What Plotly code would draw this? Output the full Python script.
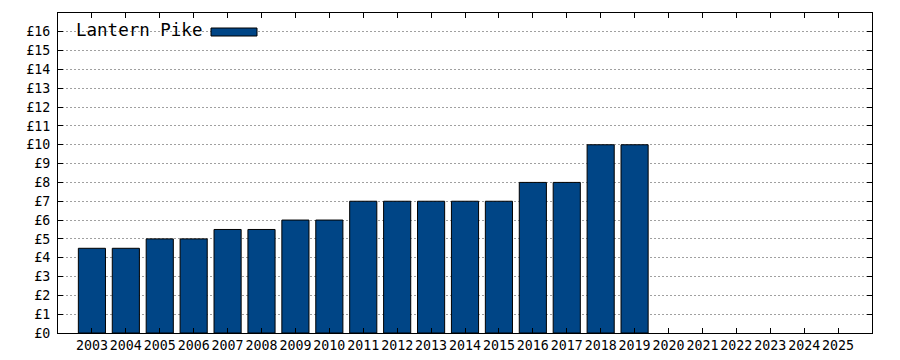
import plotly.graph_objects as go

years = list(range(2003, 2026))
prices = [4.5, 4.5, 5, 5, 5.5, 5.5, 6, 6, 7, 7, 7, 7, 7, 8, 8, 10, 10,
          None, None, None, None, None, None]
series_name = "Lantern Pike"
y_ticks = list(range(0, 17))
y_labels = [f"£{v}" for v in y_ticks]

FONT = "DejaVu Sans Mono"
BAR = "#004586"

fig = go.Figure()
fig.add_trace(go.Bar(
    x=years, y=prices, width=0.8, name=series_name,
    marker=dict(color=BAR, line=dict(color="black", width=1)),
    showlegend=False,
))

pw, ph = 900 - 58 - 28, 360 - 13 - 27
def px(x): return (x - 58) / pw
def py(y): return (333 - y) / ph

fig.update_layout(
    width=900, height=360,
    margin=dict(l=58, r=28, t=13, b=27, autoexpand=False),
    paper_bgcolor="white", plot_bgcolor="white",
    font=dict(family=FONT, size=13.3, color="black"),
    xaxis=dict(
        range=[2002, 2026], tickvals=years, ticktext=[str(y) for y in years],
        ticks="inside", ticklen=5, tickcolor="black", showline=True,
        linecolor="black", linewidth=1, mirror="ticks", showgrid=False,
        zeroline=False, automargin=False, tickangle=0,
    ),
    yaxis=dict(
        range=[0, 17], tickvals=y_ticks, ticktext=y_labels,
        ticks="inside", ticklen=5, tickcolor="black", showline=True,
        linecolor="black", linewidth=1, mirror="ticks",
        showgrid=True, gridcolor="#a0a0a0", griddash="2px,2px", gridwidth=1,
        zeroline=False, ticklabelstandoff=4, automargin=False,
    ),
    annotations=[dict(
        x=px(74), y=py(30), xref="paper", yref="paper", text=series_name,
        showarrow=False, xanchor="left", yanchor="middle",
        font=dict(family=FONT, size=17.5, color="black"),
    )],
)
fig.add_shape(type="rect", xref="paper", yref="paper",
              x0=px(211), x1=px(257), y0=py(36), y1=py(28),
              fillcolor=BAR, line=dict(color="black", width=1))

fig.write_html("out.html", config={"displayModeBar": False},
               post_script="document.body.style.margin='0';document.body.style.overflow='hidden';")
